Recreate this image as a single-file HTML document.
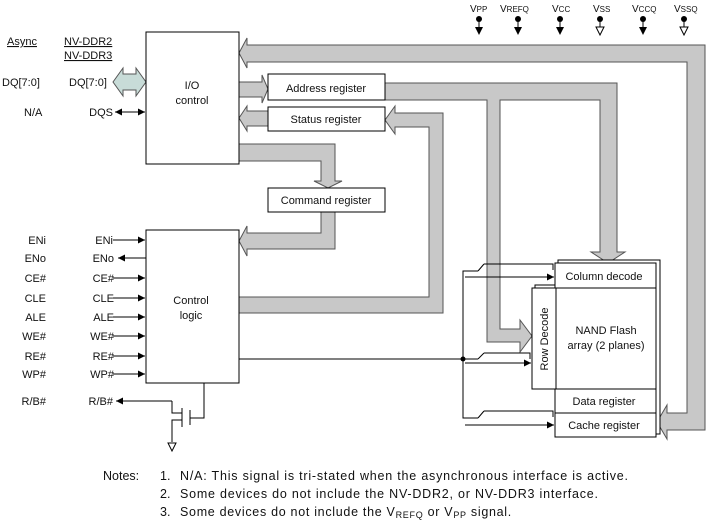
<!DOCTYPE html>
<html><head><style>
body{margin:0;background:#fff}
svg{display:block}
text{font-family:"Liberation Sans",Arial,sans-serif;fill:#111}
</style></head><body>
<svg width="712" height="524" viewBox="0 0 712 524" xmlns="http://www.w3.org/2000/svg">
<defs>
<marker id="ar" markerWidth="8" markerHeight="8" refX="7" refY="4" orient="auto-start-reverse" markerUnits="userSpaceOnUse"><path d="M0,0.5 L7,4 L0,7.5z" fill="#000"/></marker>
</defs>
<g fill="#c8c8c8" stroke="#555" stroke-width="1">
<polygon points="239,53 247,38 247,45 705,45 705,430 667,430 667,439 657,422 667,405 667,413 687,413 687,62 247,62 247,68"/>
<polygon points="239,82 262,82 262,75 268,89 262,103 262,97 239,97"/>
<polygon points="385,83 617,83 617,252 625,252 608,263 591,252 600,252 600,100 500,100 500,329 520,329 520,320 532,336 520,352 520,342 487,342 487,100 385,100"/>
<polygon points="239,118 247,106 247,111 268,111 268,126 247,126 247,131"/>
<polygon points="239,297 429,297 429,127 395,127 395,134 385,120 395,106 395,113 443,113 443,313 239,313"/>
<polygon points="239,144 335,144 335,181 342,181 328,188 314,181 321,181 321,161 239,161"/>
<polygon points="335,212 335,249 247,249 247,256 239,241 247,226 247,233 321,233 321,212"/>
</g>
<polygon points="113,82 123,68 123,74 136,74 136,68 146,82 136,96 136,90 123,90 123,96" fill="#c8dcd8" stroke="#555"/>
<g fill="none" stroke="#000" stroke-width="1">
<rect x="146" y="32" width="93" height="132" fill="#fff"/>
<rect x="146" y="230" width="93" height="153" fill="#fff"/>
<rect x="268" y="74" width="117" height="26" fill="#fff"/>
<rect x="268" y="107" width="117" height="24" fill="#fff"/>
<rect x="268" y="188" width="117" height="24" fill="#fff"/>
<rect x="558" y="260" width="102" height="174" fill="#fff"/>
<rect x="535" y="285" width="24" height="101" fill="#fff"/>
<rect x="555" y="263" width="101" height="174" fill="#fff"/>
<rect x="532" y="288" width="24" height="101" fill="#fff"/>
<line x1="555" y1="288" x2="656" y2="288"/>
<line x1="555" y1="389" x2="656" y2="389"/>
<line x1="555" y1="413" x2="656" y2="413"/>
<line x1="115" y1="112" x2="145" y2="112" marker-end="url(#ar)" marker-start="url(#ar)"/>
<line x1="113" y1="240" x2="145" y2="240" marker-end="url(#ar)"/>
<line x1="146" y1="258" x2="118" y2="258" marker-end="url(#ar)"/>
<line x1="113" y1="278" x2="145" y2="278" marker-end="url(#ar)"/>
<line x1="113" y1="298" x2="145" y2="298" marker-end="url(#ar)"/>
<line x1="113" y1="317" x2="145" y2="317" marker-end="url(#ar)"/>
<line x1="113" y1="336" x2="145" y2="336" marker-end="url(#ar)"/>
<line x1="113" y1="356" x2="145" y2="356" marker-end="url(#ar)"/>
<line x1="113" y1="374" x2="145" y2="374" marker-end="url(#ar)"/>
<polyline points="172,401 172,413 182,413" />
<line x1="172" y1="401" x2="116" y2="401" marker-end="url(#ar)"/>
<line x1="182" y1="408" x2="182" y2="427"/>
<polyline points="182,420 172,420 172,442"/>
<line x1="190" y1="410" x2="190" y2="425"/>
<polyline points="190,418 204,418 204,383"/>
<polygon points="168,443 176,443 172,451"/>
<line x1="239" y1="359" x2="463" y2="359"/>
<polyline points="463,359 463,271 478,271"/>
<line x1="478" y1="271" x2="484" y2="264"/>
<polyline points="484,264 553,264 553,270"/>
<line x1="465" y1="277" x2="554" y2="277" marker-end="url(#ar)"/>
<line x1="463" y1="359" x2="478" y2="359"/>
<line x1="478" y1="359" x2="484" y2="353"/>
<polyline points="484,353 530,353 530,359"/>
<line x1="465" y1="363" x2="531" y2="363" marker-end="url(#ar)"/>
<polyline points="463,359 463,418 478,418"/>
<line x1="478" y1="418" x2="484" y2="411"/>
<polyline points="484,411 553,411 553,417"/>
<line x1="465" y1="425" x2="554" y2="425" marker-end="url(#ar)"/>
<g>
<line x1="479" y1="19" x2="479" y2="28"/><line x1="518" y1="19" x2="518" y2="28"/>
<line x1="560" y1="19" x2="560" y2="28"/><line x1="600" y1="19" x2="600" y2="28"/>
<line x1="643" y1="19" x2="643" y2="28"/><line x1="684" y1="19" x2="684" y2="28"/>
</g>
</g>
<circle cx="463" cy="359" r="2.5" fill="#000"/>
<g fill="#000">
<circle cx="479" cy="19" r="3"/><circle cx="518" cy="19" r="3"/><circle cx="560" cy="19" r="3"/>
<circle cx="600" cy="19" r="3"/><circle cx="643" cy="19" r="3"/><circle cx="684" cy="19" r="3"/>
<polygon points="475,27 483,27 479,35"/><polygon points="514,27 522,27 518,35"/>
<polygon points="556,27 564,27 560,35"/><polygon points="639,27 647,27 643,35"/>
</g>
<polygon points="596,27 604,27 600,35" fill="#fff" stroke="#000"/>
<polygon points="680,27 688,27 684,35" fill="#fff" stroke="#000"/>
<g font-size="10">
<text x="470" y="12">V<tspan font-size="8">PP</tspan></text>
<text x="500" y="12">V<tspan font-size="8">REFQ</tspan></text>
<text x="552" y="12">V<tspan font-size="8">CC</tspan></text>
<text x="593" y="12">V<tspan font-size="8">SS</tspan></text>
<text x="632" y="12">V<tspan font-size="8">CCQ</tspan></text>
<text x="674" y="12">V<tspan font-size="8">SSQ</tspan></text>
</g>
<g font-size="11">
<text x="7" y="45" text-decoration="underline">Async</text>
<text x="64" y="45" text-decoration="underline">NV-DDR2</text>
<text x="64" y="59" text-decoration="underline">NV-DDR3</text>
<text x="2" y="86">DQ[7:0]</text>
<text x="69" y="86">DQ[7:0]</text>
<text x="24" y="116">N/A</text>
<text x="113" y="116" text-anchor="end">DQS</text>
<text x="192" y="89" text-anchor="middle">I/O</text>
<text x="192" y="104" text-anchor="middle">control</text>
<text x="326" y="92" text-anchor="middle">Address register</text>
<text x="326" y="123" text-anchor="middle">Status register</text>
<text x="326" y="204" text-anchor="middle">Command register</text>
<text x="191" y="304" text-anchor="middle">Control</text>
<text x="191" y="319" text-anchor="middle">logic</text>
<g text-anchor="end">
<text x="46" y="244">ENi</text><text x="113" y="244">ENi</text>
<text x="46" y="262">ENo</text><text x="114" y="262">ENo</text>
<text x="46" y="282">CE#</text><text x="114" y="282">CE#</text>
<text x="46" y="302">CLE</text><text x="114" y="302">CLE</text>
<text x="46" y="321">ALE</text><text x="114" y="321">ALE</text>
<text x="46" y="340">WE#</text><text x="114" y="340">WE#</text>
<text x="46" y="360">RE#</text><text x="114" y="360">RE#</text>
<text x="46" y="378">WP#</text><text x="114" y="378">WP#</text>
<text x="46" y="405">R/B#</text><text x="113" y="405">R/B#</text>
</g>
<text x="604" y="280" text-anchor="middle">Column decode</text>
<text x="606" y="334" text-anchor="middle">NAND Flash</text>
<text x="606" y="349" text-anchor="middle">array (2 planes)</text>
<text x="604" y="405" text-anchor="middle">Data register</text>
<text x="604" y="429" text-anchor="middle">Cache register</text>
<text transform="translate(548,339) rotate(-90)" text-anchor="middle">Row Decode</text>
</g>
<g font-size="12.5">
<text x="103" y="480">Notes:</text>
<text x="160" y="480">1.</text><text x="180" y="480" textLength="448">N/A: This signal is tri-stated when the asynchronous interface is active.</text>
<text x="160" y="498">2.</text><text x="180" y="498" textLength="418">Some devices do not include the NV-DDR2, or NV-DDR3 interface.</text>
<text x="160" y="516">3.</text><text x="180" y="516" letter-spacing="0.7">Some devices do not include the V<tspan font-size="9" dy="2">REFQ</tspan><tspan dy="-2"> or V</tspan><tspan font-size="9" dy="2">PP</tspan><tspan dy="-2"> signal.</tspan></text>
</g>
</svg>
</body></html>
